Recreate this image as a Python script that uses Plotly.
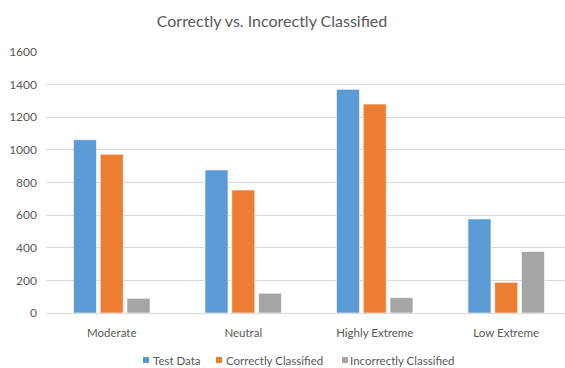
import plotly.graph_objects as go

# Category labels and the three series
categories = ["Moderate", "Neutral", "Highly Extreme", "Low Extreme"]
test_data = [1062, 877, 1371, 577]
correctly_classified = [973, 754, 1281, 188]
incorrectly_classified = [90, 121, 94, 377]

series_names = ["Test Data", "Correctly Classified", "Incorrectly Classified"]
series_colors = ["#5B9BD5", "#ED7D31", "#A5A5A5"]
y_ticks = [0, 200, 400, 600, 800, 1000, 1200, 1400, 1600]

FONT = "Lato"
TEXT_COLOR = "#595959"
W, H = 565, 368
L, R, T, B = 46, 0, 52, 55
PW, PH = W - L - R, H - T - B


def px_x(px):
    return (px - L) / PW


def px_y(py):
    return (H - B - py) / PH


fig = go.Figure()
for name, vals, color in zip(series_names,
                             [test_data, correctly_classified, incorrectly_classified],
                             series_colors):
    fig.add_trace(go.Bar(
        x=categories, y=vals, name=name,
        marker=dict(color=color, line=dict(color="rgba(255,255,255,0.6)", width=1)),
        showlegend=False,
    ))

# Compact legend row: small square swatches followed by labels
legend_x = [(143, 153), (216, 226), (342, 350)]
legend_y = 360
for (sx, tx), name, color in zip(legend_x, series_names, series_colors):
    fig.add_shape(type="rect", xref="paper", yref="paper",
                  x0=px_x(sx), x1=px_x(sx + 6), y0=px_y(legend_y + 3), y1=px_y(legend_y - 3),
                  fillcolor=color, line=dict(width=0))
    fig.add_annotation(text=name, xref="paper", yref="paper", x=px_x(tx - 1), y=px_y(legend_y),
                       xanchor="left", yanchor="middle", showarrow=False, borderpad=0,
                       font=dict(family=FONT, size=11.5, color=TEXT_COLOR))

fig.update_layout(
    width=W, height=H,
    margin=dict(l=L, r=R, t=T, b=B, autoexpand=False),
    paper_bgcolor="white", plot_bgcolor="white",
    barmode="group", bargap=0.39, bargroupgap=0.14,
    showlegend=False,
    title=dict(text="Correctly vs. Incorectly Classified", x=272 / W, xanchor="center",
               y=1 - 21 / H, yanchor="middle",
               font=dict(family=FONT, size=16, color=TEXT_COLOR)),
    font=dict(family=FONT, size=12, color=TEXT_COLOR),
    xaxis=dict(range=[-0.5, 3.447], showgrid=False, showline=True, linecolor="#D9D9D9",
               linewidth=1, ticks="", ticklabelstandoff=9,
               tickfont=dict(size=11.5, color=TEXT_COLOR)),
    yaxis=dict(range=[0, 1600], tickvals=y_ticks, showgrid=True, gridcolor="#D9D9D9",
               gridwidth=1, zeroline=False, showline=False, ticks="",
               ticklabelstandoff=8, tickfont=dict(size=12, color=TEXT_COLOR)),
)

fig.write_html("out.html")
